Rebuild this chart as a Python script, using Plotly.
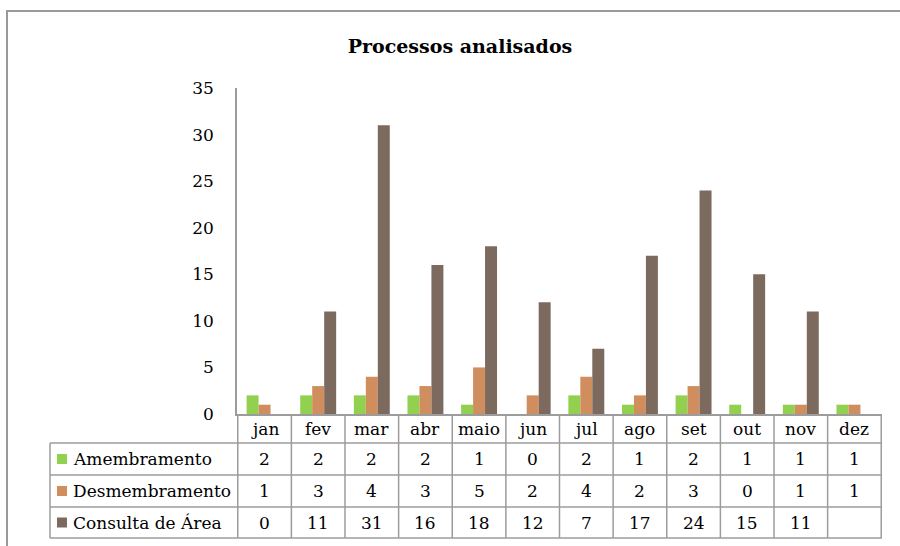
import plotly.graph_objects as go

months = ["jan", "fev", "mar", "abr", "maio", "jun", "jul", "ago", "set", "out", "nov", "dez"]
series_names = ["Amembramento", "Desmembramento", "Consulta de Área"]
amembramento = [2, 2, 2, 2, 1, 0, 2, 1, 2, 1, 1, 1]
desmembramento = [1, 3, 4, 3, 5, 2, 4, 2, 3, 0, 1, 1]
consulta = [0, 11, 31, 16, 18, 12, 7, 17, 24, 15, 11, None]
colors = ["#92D050", "#D08E5F", "#7C6A5F"]
y_ticks = [0, 5, 10, 15, 20, 25, 30, 35]

W, H = 900, 546
FONT = "DejaVu Serif"
FS = 17
GRID = "#9c9c9c"

def px(x):
    return x / W

def py(y):
    return 1 - y / H

fig = go.Figure()
all_series = [amembramento, desmembramento, consulta]
for name, vals, c in zip(series_names, all_series, colors):
    fig.add_trace(go.Bar(x=months, y=vals, name=name, marker=dict(color=c, line=dict(width=0)),
                         showlegend=False, hoverinfo="skip"))

x_left, x_right = 237, 882
y_top, y_zero = 88, 414
row_lines = [443, 475, 507, 538]
table_left = 50

shapes = []
# outer chart border
shapes.append(dict(type="rect", xref="paper", yref="paper", x0=px(7), x1=1.02, y0=-0.02, y1=py(11),
                   line=dict(color="#9a9a9a", width=2)))
# table lines
for yl in row_lines:
    shapes.append(dict(type="line", xref="paper", yref="paper", x0=px(table_left), x1=px(x_right),
                       y0=py(yl), y1=py(yl), line=dict(color=GRID, width=1.5)))
shapes.append(dict(type="line", xref="paper", yref="paper", x0=px(table_left), x1=px(table_left),
                   y0=py(row_lines[0]), y1=py(row_lines[-1]), line=dict(color=GRID, width=1.5)))
for i in range(len(months) + 1):
    shapes.append(dict(type="line", xref="x", yref="paper", x0=i - 0.5, x1=i - 0.5,
                       y0=py(y_zero), y1=py(row_lines[-1]), line=dict(color=GRID, width=1.5)))
annotations = []
for r, (name, c) in enumerate(zip(series_names, colors)):
    yc = (row_lines[r] + row_lines[r + 1]) / 2
    shapes.append(dict(type="rect", xref="paper", yref="paper", x0=px(57), x1=px(67),
                       y0=py(yc + 5), y1=py(yc - 5), fillcolor=c, line=dict(width=0)))
    annotations.append(dict(xref="paper", yref="paper", x=px(71), y=py(yc), text=name,
                            showarrow=False, xanchor="left", yanchor="middle",
                            font=dict(family=FONT, size=FS, color="#000")))
    for m, v in zip(months, all_series[r]):
        if v is None:
            continue
        annotations.append(dict(xref="x", yref="paper", x=m, y=py(yc), text=str(v),
                                showarrow=False, xanchor="center", yanchor="middle",
                                font=dict(family=FONT, size=FS, color="#000")))
for m in months:
    annotations.append(dict(xref="x", yref="paper", x=m, y=py((y_zero + row_lines[0]) / 2), text=m,
                            showarrow=False, xanchor="center", yanchor="middle",
                            font=dict(family=FONT, size=FS, color="#000")))

fig.update_layout(
    width=W, height=H, margin=dict(l=0, r=0, t=0, b=0, pad=0, autoexpand=False),
    paper_bgcolor="white", plot_bgcolor="white",
    barmode="group", bargap=0.33, bargroupgap=0,
    title=dict(text="<b>Processos analisados</b>", x=px(460), xanchor="center", y=py(46), yanchor="middle",
               font=dict(family=FONT, size=19, color="#000")),
    xaxis=dict(domain=[px(x_left), px(x_right)], showticklabels=False, ticks="",
               showline=True, linecolor=GRID, linewidth=1.5, showgrid=False, zeroline=False),
    yaxis=dict(domain=[py(y_zero), py(y_top)], range=[0, 35], tickvals=y_ticks, ticks="",
               showline=True, linecolor=GRID, linewidth=1.5, showgrid=False, zeroline=False,
               ticklabelstandoff=18, tickfont=dict(family=FONT, size=FS, color="#000")),
    shapes=shapes, annotations=annotations,
)

fig.write_html("out.html", config={"displayModeBar": False},
               post_script="document.body.style.margin='0px';document.body.style.padding='0px';")
